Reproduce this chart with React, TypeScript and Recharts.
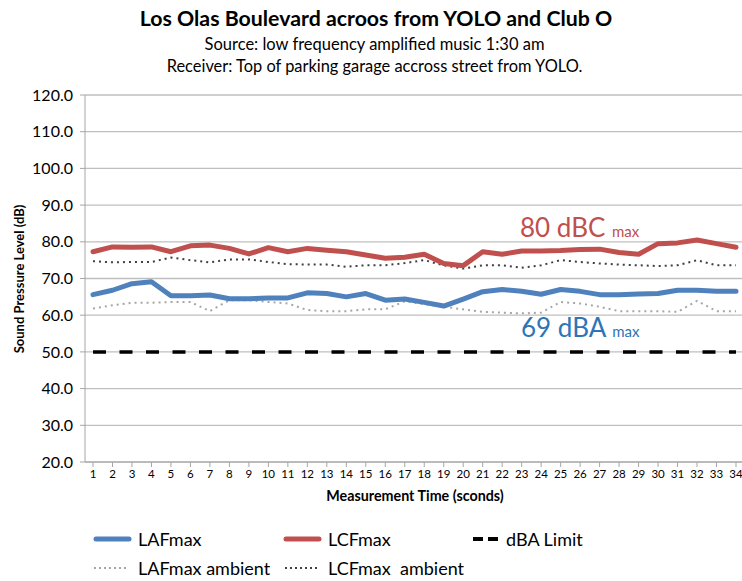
import React from 'react';
import { LineChart, Line, XAxis, YAxis, CartesianGrid, Legend } from 'recharts';

const times = Array.from({ length: 34 }, (_, i) => String(i + 1));
const lafMax = [65.6, 66.8, 68.6, 69.1, 65.3, 65.3, 65.5, 64.5, 64.5, 64.7, 64.7, 66.1, 65.9, 65.0, 65.9, 64.1, 64.4, 63.5, 62.5, 64.4, 66.4, 67.0, 66.5, 65.7, 67.0, 66.5, 65.6, 65.6, 65.8, 65.9, 66.8, 66.8, 66.5, 66.5];
const lcfMax = [77.3, 78.6, 78.5, 78.6, 77.3, 78.9, 79.1, 78.2, 76.7, 78.4, 77.3, 78.2, 77.7, 77.3, 76.4, 75.5, 75.8, 76.6, 74.1, 73.5, 77.3, 76.6, 77.5, 77.5, 77.6, 77.9, 78.0, 77.1, 76.6, 79.5, 79.7, 80.5, 79.5, 78.5];
const lafAmbient = [61.8, 62.7, 63.4, 63.4, 63.6, 63.6, 61.1, 64.1, 64.1, 63.6, 63.2, 61.4, 61.1, 61.1, 61.6, 61.6, 63.8, 63.0, 62.3, 61.6, 60.9, 60.7, 60.5, 60.7, 63.6, 63.2, 62.3, 61.1, 61.1, 61.1, 60.9, 63.9, 61.1, 61.1];
const lcfAmbient = [74.7, 74.4, 74.5, 74.5, 75.7, 75.0, 74.4, 75.2, 75.2, 74.5, 73.9, 73.8, 73.8, 73.2, 73.6, 73.6, 74.2, 75.0, 73.6, 72.7, 73.6, 73.6, 72.9, 73.6, 75.0, 74.5, 74.1, 73.8, 73.6, 73.4, 73.6, 75.0, 73.6, 73.6];
const dbaLimit = Array.from({ length: 34 }, () => 50);
const yTicks = [20, 30, 40, 50, 60, 70, 80, 90, 100, 110, 120];

const data = times.map((t, i) => ({
  t,
  laf: lafMax[i],
  lcf: lcfMax[i],
  lafAmb: lafAmbient[i],
  lcfAmb: lcfAmbient[i],
  limit: dbaLimit[i],
}));

const FONT = 'Lato, "Open Sans", sans-serif';
const BLUE = '#4F81BD';
const RED = '#C0504D';

const LegendContent = () => {
  const item = (left: number, top: number, swatch: React.ReactNode, label: string) => (
    <div key={label} style={{ position: 'absolute', left, top, height: 18, display: 'flex', alignItems: 'center', whiteSpace: 'pre' }}>
      <svg width={40} height={12} style={{ marginRight: 6 }}>{swatch}</svg>
      <span style={{ fontSize: 18, lineHeight: '18px', fontFamily: FONT, color: '#000' }}>{label}</span>
    </div>
  );
  return (
    <div style={{ position: 'relative', width: 742, height: 50 }}>
      {item(92, 0, <line x1={4} x2={37} y1={6} y2={6} stroke={BLUE} strokeWidth={5} strokeLinecap="round" />, 'LAFmax')}
      {item(282, 0, <line x1={4} x2={37} y1={6} y2={6} stroke={RED} strokeWidth={5} strokeLinecap="round" />, 'LCFmax')}
      {item(460, 0, <line x1={13} x2={38} y1={6} y2={6} stroke="#000" strokeWidth={4} strokeDasharray="10 5" />, 'dBA Limit')}
      {item(92, 29, <line x1={2} x2={34} y1={6} y2={6} stroke="#A6A6A6" strokeWidth={2} strokeDasharray="2 3" />, 'LAFmax ambient')}
      {item(282, 29, <line x1={3} x2={35} y1={6} y2={6} stroke="#404040" strokeWidth={2} strokeDasharray="2 3" />, 'LCFmax  ambient')}
    </div>
  );
};

export default function App() {
  return (
    <div style={{ position: 'absolute', left: 0, top: 0, width: 742, height: 581, overflow: 'hidden', background: '#fff', fontFamily: FONT }}>
      <div style={{ position: 'absolute', left: 0, width: 752, top: 5, textAlign: 'center', fontSize: 21.3, fontWeight: 700 }}>
        Los Olas Boulevard acroos from YOLO and Club O
      </div>
      <div style={{ position: 'absolute', left: 0, width: 749, top: 34, textAlign: 'center', fontSize: 16.5 }}>
        Source: low frequency amplified music 1:30 am
      </div>
      <div style={{ position: 'absolute', left: 0, width: 749, top: 56, textAlign: 'center', fontSize: 16.4 }}>
        Receiver: Top of parking garage accross street from YOLO.
      </div>
      <div style={{ position: 'absolute', left: 19, top: 279, width: 0, height: 0 }}>
        <div style={{ position: 'absolute', transform: 'translate(-50%, -50%) rotate(-90deg)', whiteSpace: 'nowrap', fontSize: 13, fontWeight: 700 }}>
          Sound Pressure Level (dB)
        </div>
      </div>
      <div style={{ position: 'absolute', left: 0, width: 830, top: 487, textAlign: 'center', fontSize: 14.3, fontWeight: 700 }}>
        Measurement Time (sconds)
      </div>
      <div style={{ position: 'absolute', left: 520, top: 211, color: RED, fontSize: 26, whiteSpace: 'nowrap' }}>
        80 dBC <span style={{ fontSize: 15 }}>max</span>
      </div>
      <div style={{ position: 'absolute', left: 521, top: 311, color: '#2E75B6', fontSize: 26, whiteSpace: 'nowrap' }}>
        69 dBA <span style={{ fontSize: 15 }}>max</span>
      </div>
      <LineChart width={747} height={581} data={data} margin={{ top: 95, right: 2, bottom: 39, left: 0 }}>
        <CartesianGrid horizontal vertical={false} stroke="#BFBFBF" strokeWidth={1.3} />
        <XAxis
          dataKey="t"
          interval={0}
          height={30}
          tickSize={5}
          tickMargin={3}
          padding={{ left: 8, right: 9 }}
          stroke="#A6A6A6"
          tick={{ fill: '#000', fontSize: 11.5, fontFamily: FONT }}
        />
        <YAxis
          domain={[20, 120]}
          ticks={yTicks}
          width={85}
          tickSize={5}
          tickMargin={7}
          stroke="#A6A6A6"
          tickFormatter={(v: number) => v.toFixed(1)}
          tick={{ fill: '#000', fontSize: 16, fontFamily: FONT }}
        />
        <Legend verticalAlign="bottom" content={<LegendContent />} wrapperStyle={{ position: 'absolute', left: 0, top: 530, width: 742, height: 50 }} />
        <Line dataKey="lafAmb" stroke="#A6A6A6" strokeWidth={2} strokeDasharray="2 4" dot={false} isAnimationActive={false} />
        <Line dataKey="lcfAmb" stroke="#404040" strokeWidth={2} strokeDasharray="2 4" dot={false} isAnimationActive={false} />
        <Line dataKey="limit" stroke="#000" strokeWidth={3.5} strokeDasharray="13 13.5" dot={false} isAnimationActive={false} />
        <Line dataKey="laf" stroke={BLUE} strokeWidth={5} strokeLinejoin="round" strokeLinecap="round" dot={false} isAnimationActive={false} />
        <Line dataKey="lcf" stroke={RED} strokeWidth={5} strokeLinejoin="round" strokeLinecap="round" dot={false} isAnimationActive={false} />
      </LineChart>
    </div>
  );
}
